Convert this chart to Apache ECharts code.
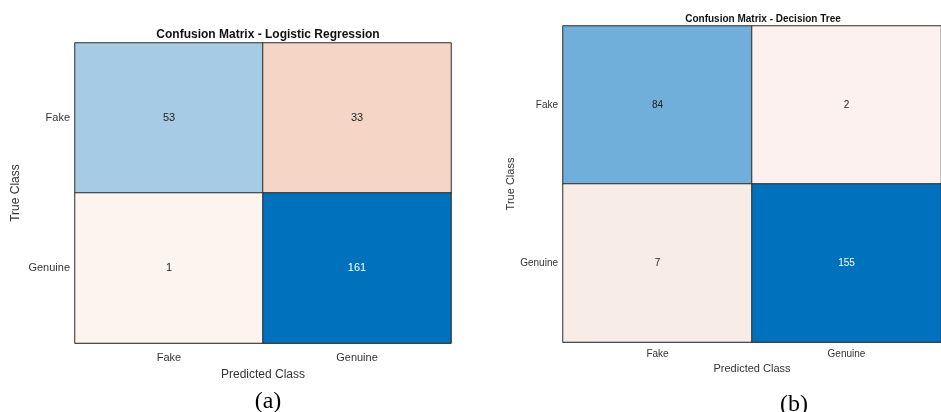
<!DOCTYPE html>
<html>
<head>
<meta charset="utf-8">
<script src="https://cdn.jsdelivr.net/npm/echarts@6/dist/echarts.min.js"></script>
<style>
  html, body { margin: 0; padding: 0; background: #fff; }
  #chart { width: 941px; height: 412px; }
</style>
</head>
<body>
<div id="chart"></div>
<script>
// Data
const classes = ['Fake', 'Genuine']
const lrTitle = 'Confusion Matrix - Logistic Regression'
const dtTitle = 'Confusion Matrix - Decision Tree'
// rows = true class, cols = predicted class
const lrMatrix = [[53, 33], [1, 161]]
const dtMatrix = [[84, 2], [7, 155]]
const captions = ['(a)', '(b)']

// cell colours (MATLAB confusionchart style)
const lrColors = [['#a6cbe5', '#f5d5c6'], ['#fdf3ef', '#0072bd']]
const dtColors = [['#6fafda', '#fcf1ee'], ['#f8ece7', '#0072bd']]

const font = 'Liberation Sans, Arial, sans-serif'

function cells(matrix, colors, fontSize) {
  const out = []
  matrix.forEach((row, r) => {
    row.forEach((v, c) => {
      const dark = colors[r][c] === '#0072bd'
      out.push({
        value: [c, r, v],
        itemStyle: { color: colors[r][c] },
        label: { color: dark ? '#fff' : '#222', fontSize: fontSize }
      })
    })
  })
  return out
}

function axes(idx, fontSize, xLabelMargin, xNameGap, yNameGap) {
  return {
    x: {
      type: 'category', gridIndex: idx, data: classes,
      name: 'Predicted Class', nameLocation: 'middle', nameGap: xNameGap,
      nameTextStyle: { color: '#333', fontSize: fontSize + 1, fontFamily: font },
      axisLine: { show: true, lineStyle: { color: '#999' } },
      axisTick: { show: false },
      axisLabel: { color: '#333', fontSize: fontSize, fontFamily: font, margin: xLabelMargin },
      splitArea: { show: false }
    },
    y: {
      type: 'category', gridIndex: idx, data: classes, inverse: true,
      name: 'True Class', nameLocation: 'middle', nameGap: yNameGap, nameRotate: 90,
      nameTextStyle: { color: '#333', fontSize: fontSize + 1, fontFamily: font },
      axisLine: { show: true, lineStyle: { color: '#999' } },
      axisTick: { show: false },
      axisLabel: { color: '#333', fontSize: fontSize, fontFamily: font, margin: 5 },
      splitArea: { show: false }
    }
  }
}

const a1 = axes(0, 11, 9, 26, 53)
const a2 = axes(1, 10, 7, 21, 47)

const chart = echarts.init(document.getElementById('chart'), null, { renderer: 'canvas' })
chart.setOption({
  animation: false,
  backgroundColor: '#fff',
  title: [
    { text: lrTitle, left: 263, top: 24, textAlign: 'center',
      textStyle: { fontSize: 12, fontWeight: 'bold', color: '#111', fontFamily: font } },
    { text: dtTitle, left: 758, top: 9, textAlign: 'center',
      textStyle: { fontSize: 10, fontWeight: 'bold', color: '#111', fontFamily: font } },
    { text: captions[0], left: 263, top: 385, textAlign: 'center',
      textStyle: { fontSize: 24, fontWeight: 'normal', color: '#000', fontFamily: 'Liberation Serif, Times New Roman, serif' } },
    { text: captions[1], left: 789, top: 388, textAlign: 'center',
      textStyle: { fontSize: 24, fontWeight: 'normal', color: '#000', fontFamily: 'Liberation Serif, Times New Roman, serif' } }
  ],
  grid: [
    { left: 75, top: 43, width: 376, height: 300 },
    { left: 563, top: 26, width: 390, height: 316 }
  ],
  xAxis: [a1.x, a2.x],
  yAxis: [a1.y, a2.y],
  series: [
    {
      type: 'heatmap', xAxisIndex: 0, yAxisIndex: 0,
      data: cells(lrMatrix, lrColors, 11),
      label: { show: true, fontFamily: font, formatter: p => p.value[2] },
      itemStyle: { borderColor: '#2b2b2b', borderWidth: 1 },
      emphasis: { disabled: true }
    },
    {
      type: 'heatmap', xAxisIndex: 1, yAxisIndex: 1,
      data: cells(dtMatrix, dtColors, 10),
      label: { show: true, fontFamily: font, formatter: p => p.value[2] },
      itemStyle: { borderColor: '#2b2b2b', borderWidth: 1 },
      emphasis: { disabled: true }
    }
  ]
})
</script>
</body>
</html>
